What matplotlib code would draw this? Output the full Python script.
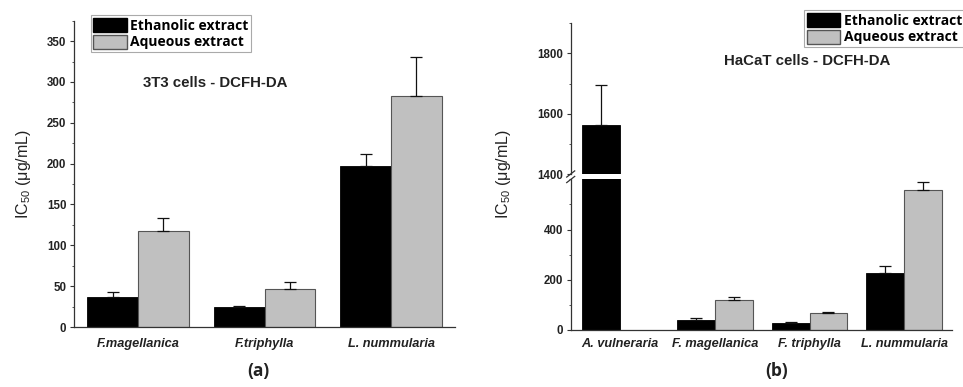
import numpy as np
import matplotlib
matplotlib.use("Agg")
import matplotlib.pyplot as plt
from matplotlib.ticker import MultipleLocator

plt.rcParams['font.family'] = ['Liberation Sans', 'DejaVu Sans']
plt.rcParams['mathtext.default'] = 'regular'

# ---- data ----
left_cats = ['F.magellanica', 'F.triphylla', 'L. nummularia']
left_eth = [37, 24.5, 197]
left_eth_err = [6, 1.5, 14.5]
left_aq = [117.5, 46, 283]
left_aq_err = [16.5, 9.5, 48]

right_cats = ['A. vulneraria', 'F. magellanica', 'F. triphylla', 'L. nummularia']
right_eth = [1562, 39, 27, 225]
right_eth_err = [134, 8, 6, 31]
right_aq = [np.nan, 120, 69, 559]
right_aq_err = [np.nan, 11, 4, 30]

series_labels = ['Ethanolic extract', 'Aqueous extract']
titles = ['3T3 cells - DCFH-DA', 'HaCaT cells - DCFH-DA']
panel_labels = ['(a)', '(b)']

BLACK = '#000000'
GRAY = '#c0c0c0'
W, H = 963, 387
fig = plt.figure(figsize=(W / 100, H / 100), dpi=100)


def fx(px):
    return px / W


def fy(py):
    return 1 - py / H


tick_fs = 8.3
xt_fs = 9.2
title_fs = 10.8
bw = 0.4


def style_axis(ax):
    for s in ['top', 'right']:
        ax.spines[s].set_visible(False)
    for s in ['left', 'bottom']:
        ax.spines[s].set_color('#333333')
        ax.spines[s].set_linewidth(0.9)
    ax.tick_params(axis='y', which='major', direction='out', length=3, width=0.8,
                   labelsize=tick_fs, pad=2.5, colors='#333333', labelcolor='#222222')
    ax.tick_params(axis='y', which='minor', direction='out', length=1.8, width=0.7,
                   colors='#555555')
    for lab in ax.get_yticklabels():
        lab.set_fontweight('bold')


def draw_bars(ax, eth, eth_err, aq, aq_err):
    x = np.arange(len(eth))
    ax.bar(x - bw / 2, eth, bw, color=BLACK, edgecolor='#000000', linewidth=0.6, zorder=2)
    ax.bar(x + bw / 2, aq, bw, color=GRAY, edgecolor='#555555', linewidth=0.8, zorder=2)
    ekw = dict(fmt='none', ecolor='#111111', elinewidth=0.9, capsize=4.5, capthick=0.9, zorder=3)
    ax.errorbar(x - bw / 2, eth, yerr=[np.zeros(len(eth)), eth_err], **ekw)
    ax.errorbar(x + bw / 2, aq, yerr=[np.zeros(len(aq)), aq_err], **ekw)
    return x


# ---- left panel ----
axL = fig.add_axes([fx(74), fy(327), fx(455) - fx(74), fy(20.7) - fy(327)])
x = draw_bars(axL, left_eth, left_eth_err, left_aq, left_aq_err)
axL.set_xlim(-0.505, 2.505)
axL.set_ylim(0, 375)
axL.yaxis.set_major_locator(MultipleLocator(50))
axL.yaxis.set_minor_locator(MultipleLocator(25))
axL.set_xticks(x)
axL.set_xticklabels(left_cats, fontsize=xt_fs, fontweight='bold', style='italic', color='#222222')
axL.tick_params(axis='x', length=0, pad=8)
style_axis(axL)
axL.text(0.37, 0.795, titles[0], transform=axL.transAxes, ha='center', va='center',
         fontsize=title_fs, fontweight='bold', color='#222222')
fig.text(fx(23.5), fy(174), r'IC$_{50}$ (μg/mL)', rotation=90, ha='center', va='center',
         fontsize=11.5, color='#222222')
hL = [plt.Rectangle((0, 0), 1, 1, facecolor=BLACK, edgecolor='#000000'),
      plt.Rectangle((0, 0), 1, 1, facecolor=GRAY, edgecolor='#555555')]
legkw = dict(prop={'family': ['Open Sans', 'DejaVu Sans'], 'weight': 'bold', 'size': 10},
             fancybox=False, framealpha=1, edgecolor='#aaaaaa', handlelength=2.4,
             handleheight=1.2, labelspacing=0.15, borderpad=0.2, handletextpad=0.25,
             borderaxespad=0)
legL = axL.legend(hL, series_labels, loc='upper left', bbox_to_anchor=(fx(90.7), fy(15)),
                  bbox_transform=fig.transFigure, **legkw)
legL.get_frame().set_linewidth(0.8)

# ---- right panel (broken axis) ----
rl, rr = fx(570.7), fx(951.7)
axB = fig.add_axes([rl, fy(330), rr - rl, fy(179.3) - fy(330)])
axT = fig.add_axes([rl, fy(174), rr - rl, fy(23.3) - fy(174)])
for ax in (axB, axT):
    x = draw_bars(ax, right_eth, right_eth_err, right_aq, right_aq_err)
    ax.set_xlim(-0.52, 3.5)
    style_axis(ax)
axB.set_ylim(0, 600)
axB.set_yticks([0, 200, 400])
axB.yaxis.set_minor_locator(MultipleLocator(100))
axB.set_yticklabels(['0', '200', '400'], fontweight='bold', fontsize=tick_fs)
axB.set_xticks(x)
axB.set_xticklabels(right_cats, fontsize=xt_fs, fontweight='bold', style='italic', color='#222222')
axB.tick_params(axis='x', length=0, pad=6)

axT.set_ylim(1400, 1900)
axT.set_yticks([1400, 1600, 1800])
axT.yaxis.set_minor_locator(MultipleLocator(100))
axT.set_yticklabels(['1400', '1600', '1800'], fontweight='bold', fontsize=tick_fs)
axT.spines['bottom'].set_visible(False)
axT.set_xticks([])
axT.patch.set_alpha(0)

# break marks on axis
for ycen in (fy(174), fy(179.5)):
    fig.add_artist(plt.Line2D([rl - fx(4), rl + fx(4)], [ycen - 0.008, ycen + 0.008],
                              color='#333333', linewidth=0.9, transform=fig.transFigure))

axT.text(0.62, 0.75, titles[1], transform=axT.transAxes, ha='center', va='center',
         fontsize=title_fs, fontweight='bold', color='#222222')
fig.text(fx(503.7), fy(174), r'IC$_{50}$ (μg/mL)', rotation=90, ha='center', va='center',
         fontsize=11.5, color='#222222')
legR = axT.legend(hL, series_labels, loc='upper left', bbox_to_anchor=(fx(804), fy(10)),
                  bbox_transform=fig.transFigure, **legkw)
legR.get_frame().set_linewidth(0.8)

# panel labels
fig.text(fx(258), fy(371), panel_labels[0], ha='center', va='center', fontsize=12.5,
         fontweight='bold', family=['Open Sans', 'DejaVu Sans'], color='#222222')
fig.text(fx(777), fy(371), panel_labels[1], ha='center', va='center', fontsize=12.5,
         fontweight='bold', family=['Open Sans', 'DejaVu Sans'], color='#222222')

fig.savefig('out.png', dpi=100)
